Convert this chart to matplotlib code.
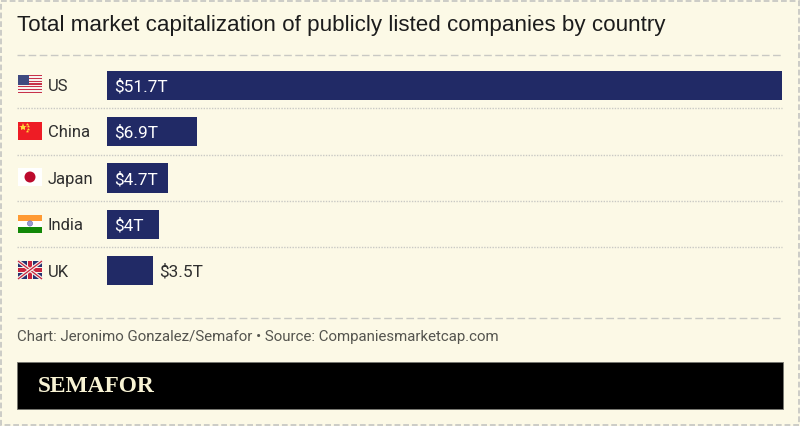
import matplotlib
matplotlib.use('Agg')
from matplotlib import pyplot as plt
from matplotlib.patches import Rectangle, Circle

countries = ['US', 'China', 'Japan', 'India', 'UK']
market_cap = [51.7, 6.9, 4.7, 4, 3.5]
value_labels = ['$51.7T', '$6.9T', '$4.7T', '$4T', '$3.5T']
title = 'Total market capitalization of publicly listed companies by country'
footer = 'Chart: Jeronimo Gonzalez/Semafor • Source: Companiesmarketcap.com'

BG = '#fcf9e6'
NAVY = '#212a66'
GREY = '#c9c9c4'
TEXT = '#2f2f2f'
LABEL_FONT = 'Roboto'


def rect(ax, x, y, w, h, color):
    ax.add_patch(Rectangle((x, y), w, h, facecolor=color, edgecolor='none'))


def flag_us(ax, x, y, w=24, h=18):
    for i in range(13):
        rect(ax, x, y + i * h / 13, w, h / 13, '#c8324a' if i % 2 == 0 else '#f7f3ee')
    rect(ax, x, y, w * 0.44, h * 7 / 13, '#3f4a80')


def flag_china(ax, x, y, w=24, h=18):
    rect(ax, x, y, w, h, '#ee1c25')
    ax.plot(x + 4.5, y + 5, marker='*', ms=6, color='#ffd83a', mew=0)
    for dx, dy in [(8.5, 2), (10, 4), (10, 7), (8.5, 9)]:
        ax.plot(x + dx, y + dy, marker='*', ms=2.5, color='#ffd83a', mew=0)


def flag_japan(ax, x, y, w=24, h=18):
    rect(ax, x, y, w, h, '#ffffff')
    ax.add_patch(Circle((x + w / 2, y + h / 2), 5.5, facecolor='#bc0a2d', edgecolor='none'))


def flag_india(ax, x, y, w=24, h=18):
    rect(ax, x, y, w, h / 3, '#ff9a33')
    rect(ax, x, y + h / 3, w, h / 3, '#ffffff')
    rect(ax, x, y + 2 * h / 3, w, h / 3, '#128807')
    ax.add_patch(Circle((x + w / 2, y + h / 2), 2.6, facecolor='#9a9ad0', edgecolor='#6a6ab0', linewidth=0.4))


def flag_uk(ax, x, y, w=24, h=18):
    rect(ax, x, y, w, h, '#27316f')
    for a, b in [((x, y), (x + w, y + h)), ((x, y + h), (x + w, y))]:
        ax.plot([a[0], b[0]], [a[1], b[1]], color='#f4f1ea', lw=2.6, solid_capstyle='butt')
        ax.plot([a[0], b[0]], [a[1], b[1]], color='#c8233c', lw=0.9, solid_capstyle='butt')
    rect(ax, x + w / 2 - 3, y, 6, h, '#f4f1ea')
    rect(ax, x, y + h / 2 - 3, w, 6, '#f4f1ea')
    rect(ax, x + w / 2 - 1.7, y, 3.4, h, '#c8233c')
    rect(ax, x, y + h / 2 - 1.7, w, 3.4, '#c8233c')


fig = plt.figure(figsize=(8, 4.26), dpi=100, facecolor=BG)

# page layer, in pixels
page = fig.add_axes([0, 0, 1, 1])
page.set_xlim(0, 800)
page.set_ylim(426, 0)
page.axis('off')

page.add_patch(Rectangle((0.8, 0.8), 798.4, 424.4, facecolor='none', edgecolor=GREY,
                         linewidth=1.3, linestyle=(0, (3.2, 1.6))))
page.text(17, 26, title, fontsize=16.15, family='Liberation Sans', color='#1c1c1c', va='center', ha='left')

page.plot([17, 783], [54.5, 54.5], color=GREY, lw=1, ls=(0, (5.5, 2.5)))
page.plot([17, 783], [317.5, 317.5], color=GREY, lw=1, ls=(0, (5.5, 2.5)))
for y in [108, 154.5, 201, 247]:
    page.plot([17, 782], [y, y], color=GREY, lw=1, ls=(0, (1, 1)))

flags = [(flag_us, 75), (flag_china, 121.5), (flag_japan, 168), (flag_india, 214.5), (flag_uk, 261)]
for draw, y in flags:
    draw(page, 18, y)

page.text(17, 337.5, footer, fontsize=10.8, family=LABEL_FONT, color='#55554f', va='center', ha='left')
page.add_patch(Rectangle((17, 362), 766, 47, facecolor='black', edgecolor='#777770', linewidth=0.6))
page.text(38, 386.5, 'SEMAFOR', fontsize=16.8, family='Liberation Serif', weight='bold',
          color='#f8f3d4', va='center', ha='left')

# bars, on their own scale
ax = fig.add_axes([107 / 800, 1 - 294 / 426, 675 / 800, 232 / 426])
ax.patch.set_alpha(0)
ax.set_xlim(0, 51.7)
ax.set_ylim(4.5, -0.5)
ax.axis('off')
ax.barh(range(len(countries)), market_cap, height=0.63, color=NAVY)

for i, (name, value, label) in enumerate(zip(countries, market_cap, value_labels)):
    ax.annotate(name, (0, i), xytext=(-42.5, -1), textcoords='offset points', fontsize=12,
                family=LABEL_FONT, color=TEXT, va='center', ha='left')
    if value > 3.5:
        ax.annotate(label, (0, i), xytext=(5, -1), textcoords='offset points', fontsize=12.4,
                    family=LABEL_FONT, color='white', va='center', ha='left')
    else:
        ax.annotate(label, (value, i), xytext=(4.6, -1), textcoords='offset points', fontsize=12.4,
                    family=LABEL_FONT, color=TEXT, va='center', ha='left')

fig.savefig('out.png', dpi=100, facecolor=BG)
